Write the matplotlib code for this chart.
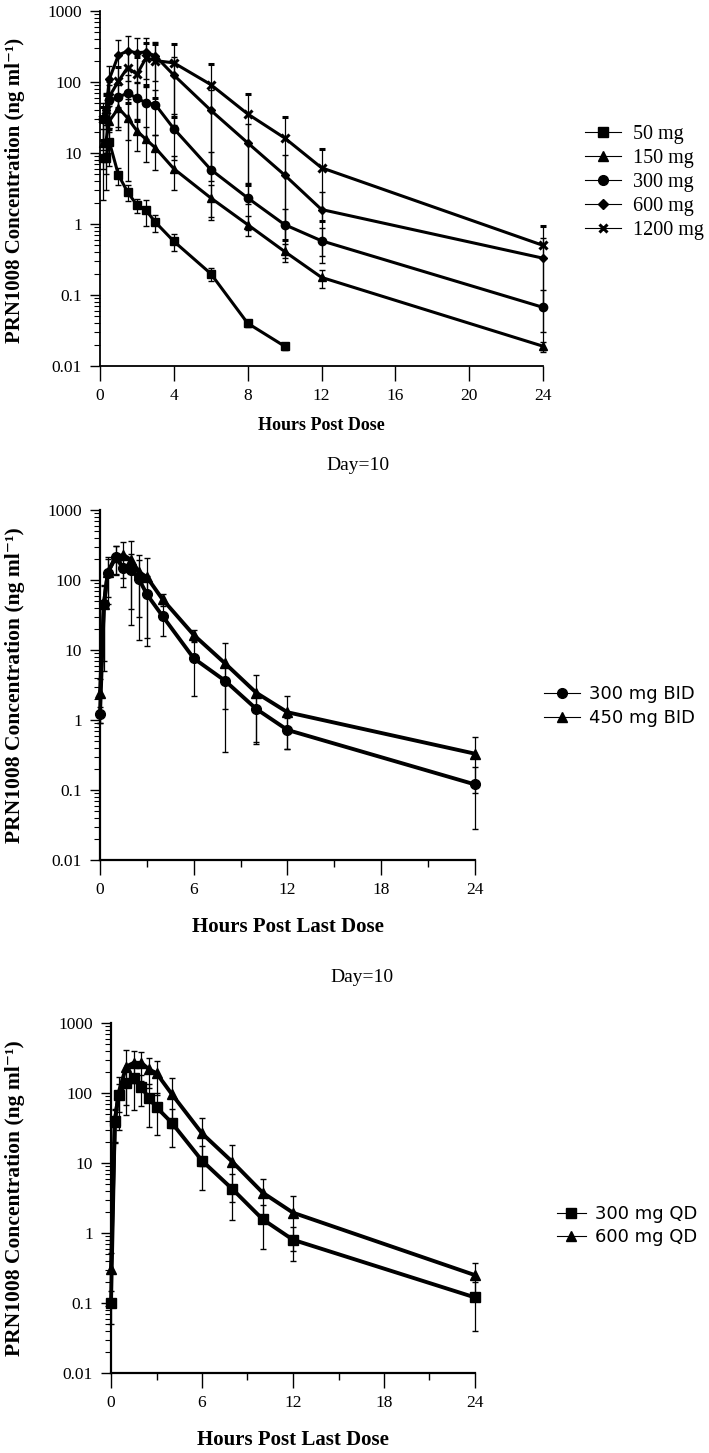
import matplotlib.pyplot as plt
from matplotlib.lines import Line2D
from matplotlib.ticker import LogLocator, NullFormatter, FixedLocator

plt.rcParams['font.family'] = ['Liberation Serif', 'DejaVu Serif']

# ---- single dose (top panel) ----
t_sd = [0.17, 0.33, 0.5, 1, 1.5, 2, 2.5, 3, 4, 6, 8, 10, 12, 24]
c50 = [8.5, 8.5, 14.5, 4.9, 2.8, 1.85, 1.55, 1.06, 0.57, 0.20, 0.040, 0.019]
sd50 = [6.3, 5.5, 8.0, 1.3, 0.7, 0.40, 0.6, 0.30, 0.15, 0.04, 0.004, 0.002]
c150 = [14, 15, 28, 43, 31, 20.5, 15.5, 11.8, 6.0, 2.33, 0.98, 0.41, 0.177, 0.019]
sd150 = [8, 10, 18, 20, 27, 10, 8, 6, 3, 1.2, 0.3, 0.12, 0.05, 0.003]
c300 = [30, 30, 55, 61, 70, 59, 51, 48, 22, 5.85, 2.33, 0.98, 0.58, 0.067]
sd300 = [15, 20, 35, 40, 55, 40, 35, 30, 14, 4.6, 1.5, 0.65, 0.3, 0.05]
c600 = [31, 40, 109, 240, 273, 258, 265, 232, 125, 40, 13.9, 4.9, 1.6, 0.33]
sd600 = [20, 30, 60, 150, 170, 160, 155, 130, 100, 36, 12, 4.5, 1.25, 0.3]
c1200 = [30, 40, 62, 103, 160, 128, 220, 200, 186, 92, 35.5, 16.3, 6.2, 0.50]
sd1200 = [15, 25, 40, 60, 110, 100, 130, 140, 154, 86, 32, 15.7, 5.1, 0.43]

# ---- day 10 BID (middle panel) ----
t_md = [0, 0.25, 0.5, 1, 1.5, 2, 2.5, 3, 4, 6, 8, 10, 12, 24]
c300bid = [1.22, 45, 127, 210, 147, 139, 102, 62.5, 30.6, 7.6, 3.64, 1.44, 0.72, 0.12]
sd300bid = [0.3, 38, 70, 92, 67, 100, 88, 51, 15, 5.4, 2.2, 0.96, 0.34, 0.092]
c450bid = [2.4, 45, 130, 213, 228, 193, 130, 110, 53, 16.4, 6.45, 2.45, 1.29, 0.33]
sd450bid = [1.5, 40, 85, 90, 120, 170, 100, 95, 11, 3, 6.1, 2.0, 0.9, 0.24]

# ---- day 10 QD (bottom panel) ----
t_qd = [0, 0.25, 0.5, 1, 1.5, 2, 2.5, 3, 4, 6, 8, 10, 12, 24]
c300qd = [0.10, 40, 94, 138, 162, 123, 84, 62.5, 37.7, 10.8, 4.25, 1.57, 0.80, 0.12]
sd300qd = [0.05, 20, 40, 90, 105, 58, 51, 37, 21, 6.7, 2.7, 0.97, 0.4, 0.08]
c600qd = [0.31, 38, 100, 238, 270, 270, 218, 192, 97, 26.5, 10.4, 3.77, 1.95, 0.25]
sd600qd = [0.2, 19, 70, 170, 130, 120, 100, 98, 65, 17.5, 7.6, 2.1, 1.4, 0.12]

ylab = 'PRN1008 Concentration (ng ml\u207b\u00b9)'
W, H = 709, 1453
fig = plt.figure(figsize=(W / 100, H / 100), dpi=100)


def px_axes(left, top, right, bottom):
    return fig.add_axes([left / W, 1 - bottom / H, (right - left) / W, (bottom - top) / H])


def style_axes(ax, xticks, xminor, spine_lw, xtick_len):
    ax.set_yscale('log')
    ax.set_ylim(0.01, 1000)
    ax.set_xlim(0, 24)
    for s in ['top', 'right']:
        ax.spines[s].set_visible(False)
    for s in ['left', 'bottom']:
        ax.spines[s].set_linewidth(spine_lw)
    ax.set_yticks([0.01, 0.1, 1, 10, 100, 1000])
    ax.set_yticklabels(['0.01', '0.1', '1', '10', '100', '1000'])
    ax.yaxis.set_minor_locator(LogLocator(base=10, subs=range(2, 10), numticks=20))
    ax.yaxis.set_minor_formatter(NullFormatter())
    ax.set_xticks(xticks)
    ax.set_xticklabels([str(x) for x in xticks])
    if xminor:
        ax.xaxis.set_minor_locator(FixedLocator(xminor))
    ax.tick_params(axis='y', which='major', direction='out', length=7, width=1.0, pad=6, labelsize=12.5)
    ax.tick_params(axis='y', which='minor', direction='out', length=4.5, width=0.8)
    ax.tick_params(axis='x', which='major', direction='out', length=xtick_len, width=1.0, pad=5, labelsize=12.5)
    ax.tick_params(axis='x', which='minor', direction='out', length=5, width=1.0)


def draw(ax, t, y, sd, marker, ms, lw):
    ax.errorbar(t, y, yerr=sd, color='k', lw=lw, marker=marker, ms=ms, mew=2.2 if marker == 'x' else 1,
                elinewidth=0.9, capsize=2, capthick=0.9, clip_on=False)


# top panel: single dose
ax1 = px_axes(100, 11, 543, 366)
style_axes(ax1, [0, 4, 8, 12, 16, 20, 24], None, 1.3, 11)
draw(ax1, t_sd[:len(c50)], c50, sd50, 's', 6, 2.2)
draw(ax1, t_sd, c150, sd150, '^', 6, 2.2)
draw(ax1, t_sd, c300, sd300, 'o', 6, 2.2)
draw(ax1, t_sd, c600, sd600, 'D', 4.5, 2.2)
draw(ax1, t_sd, c1200, sd1200, 'x', 6, 2.2)
h1 = [Line2D([], [], color='k', lw=0.8, marker=m, ms=s, mew=2.2 if m == 'x' else 1)
      for m, s in [('s', 7), ('^', 7), ('o', 7), ('D', 5), ('x', 6)]]
fig.legend(h1, ['50 mg', '150 mg', '300 mg', '600 mg', '1200 mg'], loc='upper left',
           bbox_to_anchor=(585 / W, 1 - 125 / H), frameon=False, fontsize=14.5,
           handlelength=1.8, handletextpad=0.6, labelspacing=0.24, borderpad=0, borderaxespad=0)
fig.text(15 / W, 1 - 190 / H, ylab, rotation=90, ha='center', va='center', fontsize=15, fontweight='bold')
fig.text(321 / W, 1 - 425 / H, 'Hours Post Dose', ha='center', va='center', fontsize=13, fontweight='bold')

# middle panel: BID
ax2 = px_axes(100, 510, 475, 860)
style_axes(ax2, [0, 6, 12, 18, 24], [3, 9, 15, 21], 1.6, 11)
draw(ax2, t_md, c300bid, sd300bid, 'o', 7, 2.8)
draw(ax2, t_md, c450bid, sd450bid, '^', 7, 2.8)
h2 = [Line2D([], [], color='k', lw=0.8, marker=m, ms=7) for m in ['o', '^']]
fig.legend(h2, ['300 mg BID', '450 mg BID'], loc='upper left', bbox_to_anchor=(544 / W, 1 - 685 / H),
           frameon=False, prop={'family': 'DejaVu Sans', 'size': 13},
           handlelength=2.0, handletextpad=0.5, labelspacing=0.35, borderpad=0, borderaxespad=0)
fig.text(358 / W, 1 - 466 / H, 'Day=10', ha='center', va='center', fontsize=14)
fig.text(15 / W, 1 - 685 / H, ylab, rotation=90, ha='center', va='center', fontsize=15.5, fontweight='bold')
fig.text(288 / W, 1 - 927 / H, 'Hours Post Last Dose', ha='center', va='center', fontsize=15, fontweight='bold')

# bottom panel: QD
ax3 = px_axes(111, 1023, 475, 1373)
style_axes(ax3, [0, 6, 12, 18, 24], [3, 9, 15, 21], 1.6, 11)
draw(ax3, t_qd, c300qd, sd300qd, 's', 7, 2.8)
draw(ax3, t_qd, c600qd, sd600qd, '^', 7, 2.8)
h3 = [Line2D([], [], color='k', lw=0.8, marker=m, ms=7) for m in ['s', '^']]
fig.legend(h3, ['300 mg QD', '600 mg QD'], loc='upper left', bbox_to_anchor=(557 / W, 1 - 1205 / H),
           frameon=False, prop={'family': 'DejaVu Sans', 'size': 13},
           handlelength=1.6, handletextpad=0.5, labelspacing=0.3, borderpad=0, borderaxespad=0)
fig.text(362 / W, 1 - 977 / H, 'Day=10', ha='center', va='center', fontsize=14)
fig.text(15 / W, 1 - 1198 / H, ylab, rotation=90, ha='center', va='center', fontsize=15.5, fontweight='bold')
fig.text(293 / W, 1 - 1440 / H, 'Hours Post Last Dose', ha='center', va='center', fontsize=15, fontweight='bold')

fig.savefig('out.png', dpi=100)
